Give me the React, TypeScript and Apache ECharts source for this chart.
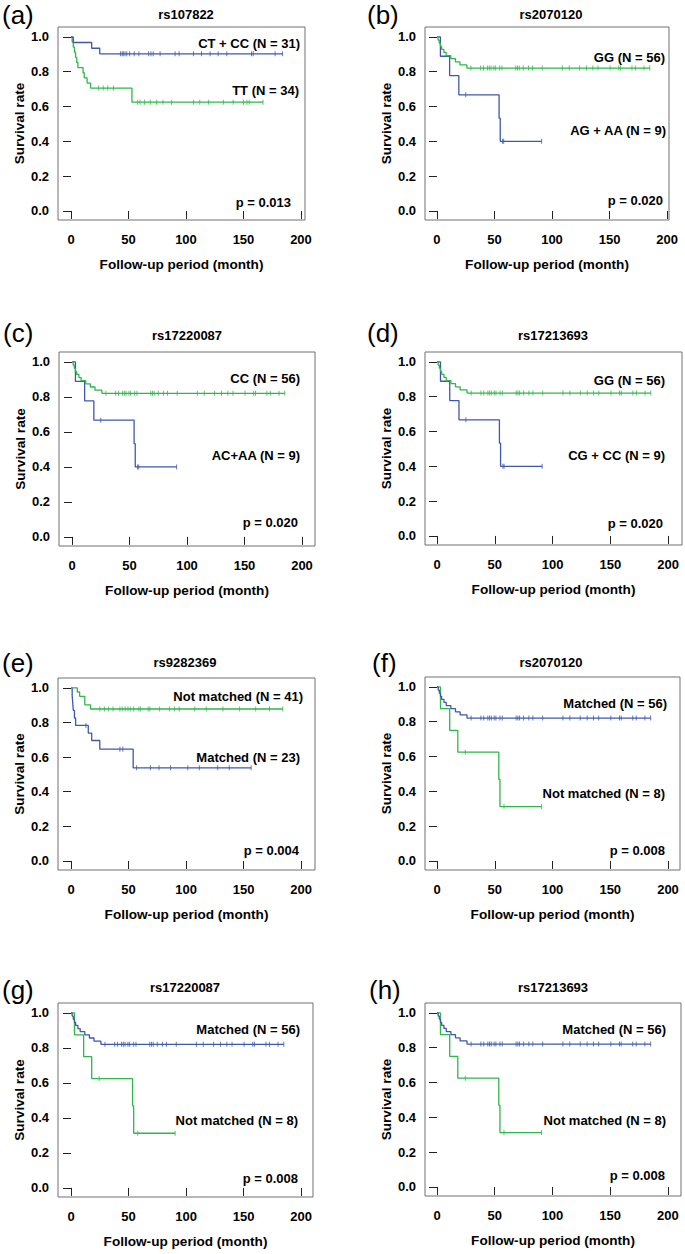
import React, { useEffect, useRef } from "react";
import * as echarts from "echarts";

const BLUE = "#3E58AC";
const GREEN = "#2EB848";
const FONT = '"Liberation Sans", Arial, sans-serif';

// Axis tick values
const xTicks = [0, 50, 100, 150, 200];
const yTicks = [0, 0.2, 0.4, 0.6, 0.8, 1.0];

// (a) rs107822
const aBlueT = [2, 18, 25];
const aBlueS = [0.968, 0.935, 0.903];
const aBlueC = [43, 44.5, 45.5, 47, 48.5, 51, 55, 59, 67.5, 69.5, 71.5, 77.5, 90.5, 94, 106.5, 113.5, 121, 128, 135.5, 157, 158.5, 177.5, 184];
const aGreenT = [1, 2, 3, 4, 5, 6, 10.5, 11.5, 14, 17, 53];
const aGreenS = [0.971, 0.941, 0.912, 0.882, 0.853, 0.824, 0.794, 0.765, 0.735, 0.706, 0.625];
const aGreenC = [24, 28, 32, 37, 58, 60, 64, 69, 74.5, 80, 87.5, 106.5, 112, 119.5, 132.5, 141, 150, 153, 155, 167];

// N = 56 group (GG / CC / Matched)
const g56T = [1, 2, 3, 4, 6, 8, 12, 16, 20, 26];
const g56S = [0.982, 0.964, 0.946, 0.929, 0.911, 0.893, 0.875, 0.857, 0.839, 0.821];
const g56C = [29.5, 38, 40.5, 44, 45.5, 47, 49.5, 51, 54.5, 56.5, 68.5, 70, 71.5, 75, 79.5, 83, 91.5, 109, 115, 124, 130, 135.5, 140, 150.5, 158, 159.5, 169.5, 172.5, 180, 185];

// N = 9 group (AG + AA / AC+AA / CG + CC)
const g9T = [3, 11, 19, 54, 55];
const g9S = [0.889, 0.778, 0.667, 0.533, 0.4];
const g9C = [25, 57, 58, 91];

// (e) rs9282369
const eGreenT = [5.5, 7.5, 12, 17];
const eGreenS = [0.976, 0.951, 0.902, 0.878];
const eGreenC = [25, 29, 32.5, 36.5, 42.5, 44.5, 47, 49.5, 51.5, 54.5, 59, 60.5, 67, 68.5, 77, 85.5, 90, 94, 107.5, 117.5, 132, 146.5, 160.5, 172.5, 184];
const eBlueT = [1, 1.5, 2, 3, 4, 15, 18, 25, 54];
const eBlueS = [0.957, 0.913, 0.870, 0.826, 0.783, 0.739, 0.696, 0.646, 0.538];
const eBlueC = [13, 42.5, 45, 57, 69, 76.5, 86.5, 101.5, 111.5, 127.5, 137.5, 156.5];

// N = 8 group (Not matched)
const g8T = [3, 11, 18, 53.5, 54.5];
const g8S = [0.875, 0.75, 0.625, 0.469, 0.3125];
const g8C = [24.5, 58, 90.5];

function km(T: number[], S: number[], C: number[]) {
  const line: number[][] = [[0, 1]];
  T.forEach((t, i) => line.push([t, S[i]]));
  const last = Math.max(T[T.length - 1], ...C);
  line.push([last, S[S.length - 1]]);
  const sAt = (c: number) => {
    let s = 1;
    T.forEach((t, i) => { if (t <= c) s = S[i]; });
    return s;
  };
  const marks = C.map((c) => [c, sAt(c)]);
  return { line, marks };
}

type Curve = { color: string; T: number[]; S: number[]; C: number[] };
type Label = { text: string; x: number; y: number };
type Panel = {
  letter: Label; title: Label; grid: { left: number; top: number; width: number; height: number };
  xMin: number; xMax: number; curves: Curve[]; labels: Label[];
};

const panels: Panel[] = [
  {
    letter: { text: "(a)", x: 2, y: 15 }, title: { text: "rs107822", x: 186, y: 14 },
    grid: { left: 58, top: 27, width: 247, height: 193 }, xMin: -11.3, xMax: 203.5,
    curves: [{ color: GREEN, T: aGreenT, S: aGreenS, C: aGreenC }, { color: BLUE, T: aBlueT, S: aBlueS, C: aBlueC }],
    labels: [{ text: "CT + CC (N = 31)", x: 300, y: 43 }, { text: "TT (N = 34)", x: 299, y: 90 }, { text: "p = 0.013", x: 291, y: 202 }],
  },
  {
    letter: { text: "(b)", x: 367, y: 15 }, title: { text: "rs2070120", x: 551, y: 14 },
    grid: { left: 425, top: 27, width: 244, height: 193 }, xMin: -10.4, xMax: 201.7,
    curves: [{ color: BLUE, T: g9T, S: g9S, C: g9C }, { color: GREEN, T: g56T, S: g56S, C: g56C }],
    labels: [{ text: "GG (N = 56)", x: 665, y: 57 }, { text: "AG + AA (N = 9)", x: 666, y: 130 }, { text: "p = 0.020", x: 663, y: 200 }],
  },
  {
    letter: { text: "(c)", x: 3, y: 333 }, title: { text: "rs17220087", x: 187, y: 335 },
    grid: { left: 59, top: 352, width: 256, height: 194 }, xMin: -11.3, xMax: 211.3,
    curves: [{ color: BLUE, T: g9T, S: g9S, C: g9C }, { color: GREEN, T: g56T, S: g56S, C: g56C }],
    labels: [{ text: "CC (N = 56)", x: 300, y: 378 }, { text: "AC+AA (N = 9)", x: 300, y: 455 }, { text: "p = 0.020", x: 298, y: 522 }],
  },
  {
    letter: { text: "(d)", x: 367, y: 333 }, title: { text: "rs17213693", x: 553, y: 335 },
    grid: { left: 425, top: 352, width: 257, height: 193 }, xMin: -10.4, xMax: 212,
    curves: [{ color: BLUE, T: g9T, S: g9S, C: g9C }, { color: GREEN, T: g56T, S: g56S, C: g56C }],
    labels: [{ text: "GG (N = 56)", x: 665, y: 380 }, { text: "CG + CC (N = 9)", x: 665, y: 455 }, { text: "p = 0.020", x: 663, y: 523 }],
  },
  {
    letter: { text: "(e)", x: 2, y: 663 }, title: { text: "rs9282369", x: 185, y: 662 },
    grid: { left: 58, top: 678, width: 257, height: 192 }, xMin: -11.3, xMax: 212,
    curves: [{ color: BLUE, T: eBlueT, S: eBlueS, C: eBlueC }, { color: GREEN, T: eGreenT, S: eGreenS, C: eGreenC }],
    labels: [{ text: "Not matched (N = 41)", x: 303, y: 696 }, { text: "Matched (N = 23)", x: 300, y: 757 }, { text: "p = 0.004", x: 299, y: 850 }],
  },
  {
    letter: { text: "(f)", x: 372, y: 663 }, title: { text: "rs2070120", x: 551, y: 662 },
    grid: { left: 425, top: 677, width: 255, height: 193 }, xMin: -10.4, xMax: 210.4,
    curves: [{ color: GREEN, T: g8T, S: g8S, C: g8C }, { color: BLUE, T: g56T, S: g56S, C: g56C }],
    labels: [{ text: "Matched (N = 56)", x: 667, y: 703 }, { text: "Not matched (N = 8)", x: 665, y: 793 }, { text: "p = 0.008", x: 665, y: 850 }],
  },
  {
    letter: { text: "(g)", x: 2, y: 990 }, title: { text: "rs17220087", x: 185, y: 987 },
    grid: { left: 58, top: 1003, width: 255, height: 194 }, xMin: -11.3, xMax: 210.4,
    curves: [{ color: GREEN, T: g8T, S: g8S, C: g8C }, { color: BLUE, T: g56T, S: g56S, C: g56C }],
    labels: [{ text: "Matched (N = 56)", x: 300, y: 1029 }, { text: "Not matched (N = 8)", x: 298, y: 1120 }, { text: "p = 0.008", x: 298, y: 1178 }],
  },
  {
    letter: { text: "(h)", x: 369, y: 990 }, title: { text: "rs17213693", x: 553, y: 987 },
    grid: { left: 425, top: 1003, width: 256, height: 193 }, xMin: -10.4, xMax: 211.3,
    curves: [{ color: GREEN, T: g8T, S: g8S, C: g8C }, { color: BLUE, T: g56T, S: g56S, C: g56C }],
    labels: [{ text: "Matched (N = 56)", x: 666, y: 1029 }, { text: "Not matched (N = 8)", x: 666, y: 1120 }, { text: "p = 0.008", x: 665, y: 1175 }],
  },
];

function textEl(l: Label, fontSize: number, fontWeight: string, align: string) {
  return {
    type: "text",
    x: l.x,
    y: l.y,
    silent: true,
    style: {
      text: l.text,
      fontFamily: FONT,
      fontSize,
      fontWeight,
      fill: "#000",
      align,
      verticalAlign: "middle",
      textAlign: align,
      textVerticalAlign: "middle",
    },
  };
}

function buildOption() {
  const grid: any[] = [];
  const xAxis: any[] = [];
  const yAxis: any[] = [];
  const series: any[] = [];
  const graphic: any[] = [];
  const labelStyle = { color: "#000", fontFamily: FONT, fontWeight: "bold", fontSize: 13 };
  const nameStyle = { color: "#000", fontFamily: FONT, fontWeight: "bold", fontSize: 13.6 };
  panels.forEach((p, i) => {
    grid.push({ ...p.grid, show: true, borderColor: "#707070", borderWidth: 1, backgroundColor: "transparent", containLabel: false });
    xAxis.push({
      type: "value", gridIndex: i, min: p.xMin, max: p.xMax,
      name: "Follow-up period (month)", nameLocation: "middle", nameGap: 37,
      nameTextStyle: nameStyle,
      axisLine: { show: false },
      axisTick: { show: true, inside: false, length: 8, customValues: xTicks, lineStyle: { color: "#222", width: 1 } },
      axisLabel: { show: true, margin: 13, customValues: xTicks, ...labelStyle, formatter: (v: number) => String(v) },
      splitLine: { show: false },
    });
    yAxis.push({
      type: "value", gridIndex: i, min: -0.052, max: 1.057,
      name: "Survival rate", nameLocation: "middle", nameGap: 32,
      nameTextStyle: nameStyle,
      axisLine: { show: false },
      axisTick: { show: true, inside: false, length: 8, customValues: yTicks, lineStyle: { color: "#222", width: 1 } },
      axisLabel: { show: true, margin: 9, customValues: yTicks, ...labelStyle, formatter: (v: number) => v.toFixed(1) },
      splitLine: { show: false },
    });
    p.curves.forEach((c) => {
      const k = km(c.T, c.S, c.C);
      series.push({
        type: "line", xAxisIndex: i, yAxisIndex: i, data: k.line, step: "end",
        showSymbol: false, symbol: "none", silent: true,
        lineStyle: { color: c.color, width: 1.3 },
      });
      series.push({
        type: "scatter", xAxisIndex: i, yAxisIndex: i, data: k.marks, silent: true,
        symbol: "rect", symbolSize: [1, 5], itemStyle: { color: c.color },
      });
    });
    graphic.push(textEl(p.letter, 26, "normal", "left"));
    graphic.push(textEl(p.title, 13, "bold", "center"));
    p.labels.forEach((l) => graphic.push(textEl(l, 13, "bold", "right")));
  });
  return { animation: false, backgroundColor: "#fff", grid, xAxis, yAxis, series, graphic };
}

export default function App() {
  const ref = useRef<HTMLDivElement>(null);
  useEffect(() => {
    if (!ref.current) return;
    const chart = echarts.init(ref.current, undefined, { renderer: "svg" });
    chart.setOption(buildOption() as any);
    return () => chart.dispose();
  }, []);
  return (
    <div
      ref={ref}
      style={{ position: "absolute", left: 0, top: 0, width: 685, height: 1254, background: "#fff" }}
    />
  );
}
